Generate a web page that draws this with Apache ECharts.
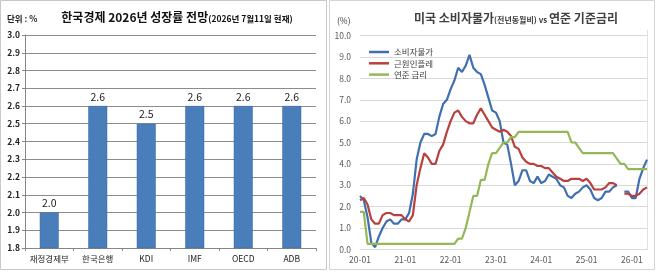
<!DOCTYPE html>
<html>
<head>
<meta charset="utf-8">
<script src="https://cdn.jsdelivr.net/npm/echarts@6/dist/echarts.min.js"></script>
<style>
  html, body { margin: 0; padding: 0; background: #fff; }
  #chart { width: 658px; height: 272px; }
</style>
</head>
<body>
<div id="chart"></div>
<script>
// left panel: 2026 growth forecasts
var agencies = ['재정경제부', '한국은행', 'KDI', 'IMF', 'OECD', 'ADB']
var growth = [2.0, 2.6, 2.5, 2.6, 2.6, 2.6]

// right panel: US CPI / core / fed rate, monthly 2020-01 .. 2026-05
var months = []
for (var y = 20; y <= 26; y++) {
  for (var m = 1; m <= 12; m++) {
    if (y === 26 && m > 5) break
    months.push(y + '-' + (m < 10 ? '0' + m : m))
  }
}
var cpi = [
  2.5, 2.3, 1.5, 0.3, 0.1, 0.6, 1.0, 1.3, 1.4, 1.2, 1.2, 1.4,
  1.4, 1.7, 2.6, 4.2, 5.0, 5.4, 5.4, 5.3, 5.4, 6.2, 6.8, 7.0,
  7.5, 7.9, 8.5, 8.3, 8.6, 9.1, 8.5, 8.3, 8.2, 7.7, 7.1, 6.5,
  6.4, 6.0, 5.0, 4.9, 4.0, 3.0, 3.2, 3.7, 3.7, 3.2, 3.1, 3.4,
  3.1, 3.2, 3.5, 3.4, 3.3, 3.0, 2.9, 2.5, 2.4, 2.6, 2.7, 2.9,
  3.0, 2.8, 2.4, 2.3, 2.4, 2.7, 2.7, 2.9, 3.0, null, 2.7, 2.7,
  2.4, 2.4, 3.3, 3.8, 4.2
]
var coreCpi = [
  2.3, 2.4, 2.1, 1.4, 1.2, 1.2, 1.6, 1.7, 1.7, 1.6, 1.6, 1.6,
  1.4, 1.3, 1.6, 3.0, 3.8, 4.5, 4.3, 4.0, 4.0, 4.6, 4.9, 5.5,
  6.0, 6.4, 6.5, 6.2, 6.0, 5.9, 5.9, 6.3, 6.6, 6.3, 6.0, 5.7,
  5.6, 5.5, 5.6, 5.5, 5.3, 4.8, 4.7, 4.3, 4.1, 4.0, 4.0, 3.9,
  3.9, 3.8, 3.8, 3.6, 3.4, 3.3, 3.2, 3.2, 3.3, 3.3, 3.3, 3.2,
  3.3, 3.1, 2.8, 2.8, 2.8, 2.9, 3.1, 3.1, 3.0, null, 2.6, 2.6,
  2.5, 2.5, 2.6, 2.8, 2.9
]
var fedRate = [
  1.75, 1.75, 0.25, 0.25, 0.25, 0.25, 0.25, 0.25, 0.25, 0.25, 0.25, 0.25,
  0.25, 0.25, 0.25, 0.25, 0.25, 0.25, 0.25, 0.25, 0.25, 0.25, 0.25, 0.25,
  0.25, 0.25, 0.5, 0.5, 1.0, 1.75, 2.5, 2.5, 3.25, 3.25, 4.0, 4.5,
  4.5, 4.75, 5.0, 5.0, 5.25, 5.25, 5.5, 5.5, 5.5, 5.5, 5.5, 5.5,
  5.5, 5.5, 5.5, 5.5, 5.5, 5.5, 5.5, 5.5, 5.0, 5.0, 4.75, 4.5,
  4.5, 4.5, 4.5, 4.5, 4.5, 4.5, 4.5, 4.5, 4.25, 4.0, 4.0, 3.75,
  3.75, 3.75, 3.75, 3.75, 3.75
]

var FONT = '"Noto Sans CJK KR", "Noto Sans", sans-serif'
var chart = echarts.init(document.getElementById('chart'))

chart.setOption({
  animation: false,
  textStyle: { fontFamily: FONT },
  title: [
    {
      text: '{a|한국경제 2026년 성장률 전망}{b|(2026년 7월11일 현재)}',
      left: 172,
      top: 6,
      textAlign: 'center',
      textStyle: {
        rich: {
          a: { fontSize: 12, fontWeight: 'bold', color: '#111', fontFamily: FONT, verticalAlign: 'bottom' },
          b: { fontSize: 8.5, fontWeight: 'bold', color: '#111', fontFamily: FONT, verticalAlign: 'bottom' }
        }
      }
    },
    {
      text: '{a|미국 소비자물가}{b|(전년동월비)}{c| vs }{a|연준 기준금리}',
      left: 511,
      top: 7,
      textAlign: 'center',
      textStyle: {
        rich: {
          a: { fontSize: 12, color: '#404040', fontFamily: FONT, verticalAlign: 'bottom' },
          b: { fontSize: 8, color: '#404040', fontFamily: FONT, verticalAlign: 'bottom' },
          c: { fontSize: 8, color: '#404040', fontFamily: FONT, verticalAlign: 'bottom' }
        }
      }
    }
  ],
  legend: {
    data: ['소비자물가', '근원인플레', '연준 금리'],
    orient: 'vertical',
    left: 364,
    top: 42,
    icon: 'rect',
    itemWidth: 20,
    itemHeight: 2.5,
    itemGap: 1.3,
    textStyle: { fontSize: 8.5, color: '#404040', lineHeight: 10, fontFamily: FONT }
  },
  graphic: [
    { type: 'rect', shape: { x: 0.5, y: 0.5, width: 326, height: 269 }, style: { fill: 'none', stroke: '#c8c8c8', lineWidth: 1 } },
    { type: 'rect', shape: { x: 329.5, y: 0.5, width: 325, height: 269 }, style: { fill: 'none', stroke: '#d4d4d4', lineWidth: 1 } },
    { type: 'line', shape: { x1: 647.5, y1: 30, x2: 647.5, y2: 250 }, style: { stroke: '#e2e2e2', lineWidth: 1 } },
    { type: 'text', left: 7, top: 15, style: { text: '단위 : %', font: 'bold 8.5px ' + FONT, fill: '#222' } },
    { type: 'text', left: 337, top: 17, style: { text: '(%)', font: '8.5px ' + FONT, fill: '#404040' } }
  ],
  grid: [
    { left: 25, right: 342, top: 35, bottom: 24 },
    { left: 360, right: 11, top: 35.7, bottom: 22.7 }
  ],
  xAxis: [
    {
      gridIndex: 0,
      type: 'category',
      data: agencies,
      axisLine: { lineStyle: { color: '#868686' } },
      axisTick: { show: true, length: 3, lineStyle: { color: '#868686' } },
      axisLabel: { fontSize: 8.5, color: '#222', margin: 7, interval: 0 }
    },
    {
      gridIndex: 1,
      type: 'category',
      data: months,
      boundaryGap: false,
      axisLine: { lineStyle: { color: '#d9d9d9' } },
      axisTick: { show: false },
      axisLabel: { fontSize: 8.5, color: '#595959', margin: 6, interval: 11 }
    }
  ],
  yAxis: [
    {
      gridIndex: 0,
      type: 'value',
      min: 1.8,
      max: 3.0,
      interval: 0.1,
      axisLine: { show: true, lineStyle: { color: '#868686' } },
      axisTick: { show: true, length: 3, lineStyle: { color: '#868686' } },
      axisLabel: {
        fontSize: 8.5, color: '#222', fontWeight: 'bold', margin: 5,
        formatter: function (v) { return v.toFixed(1) }
      },
      splitLine: { lineStyle: { color: '#8c8c8c' } }
    },
    {
      gridIndex: 1,
      type: 'value',
      min: 0,
      max: 10,
      interval: 1,
      axisLine: { show: false },
      axisTick: { show: false },
      axisLabel: {
        fontSize: 8.5, color: '#595959', margin: 9,
        formatter: function (v) { return v.toFixed(1) }
      },
      splitLine: { lineStyle: { color: '#d9d9d9' } }
    }
  ],
  series: [
    {
      name: '성장률',
      type: 'bar',
      xAxisIndex: 0,
      yAxisIndex: 0,
      barWidth: 19,
      itemStyle: { color: '#4a7ebb', borderColor: '#3d6ba3', borderWidth: 0.5 },
      label: {
        show: true,
        position: 'top',
        distance: 4,
        fontSize: 10.5,
        color: '#222',
        formatter: function (p) { return p.value.toFixed(1) }
      },
      data: growth
    },
    {
      name: '소비자물가',
      type: 'line',
      xAxisIndex: 1,
      yAxisIndex: 1,
      symbol: 'none',
      lineStyle: { width: 2.2, color: '#3f6fb0' },
      itemStyle: { color: '#3f6fb0' },
      data: cpi
    },
    {
      name: '근원인플레',
      type: 'line',
      xAxisIndex: 1,
      yAxisIndex: 1,
      symbol: 'none',
      lineStyle: { width: 2.2, color: '#b8403d' },
      itemStyle: { color: '#b8403d' },
      data: coreCpi
    },
    {
      name: '연준 금리',
      type: 'line',
      xAxisIndex: 1,
      yAxisIndex: 1,
      symbol: 'none',
      lineStyle: { width: 2.2, color: '#94b856' },
      itemStyle: { color: '#94b856' },
      data: fedRate
    }
  ]
})
</script>
</body>
</html>
